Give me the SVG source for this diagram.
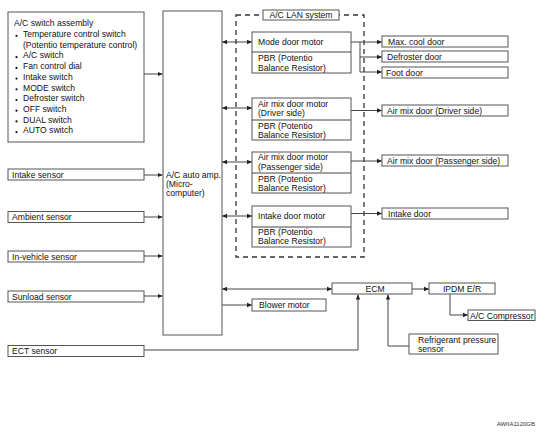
<svg xmlns="http://www.w3.org/2000/svg" width="550" height="436" viewBox="0 0 550 436">
<style>
.b{fill:#fff;stroke:#555;stroke-width:1}
.t{font-family:"Liberation Sans",Arial,sans-serif;font-size:8.6px;fill:#111}
.c{text-anchor:middle}
.l{fill:none;stroke:#444;stroke-width:1}
.a{marker-end:url(#ah)}
.d{marker-start:url(#as);marker-end:url(#ah)}
.dash{fill:none;stroke:#333;stroke-width:1.3;stroke-dasharray:5,4}
</style>
<defs>
<marker id="ah" markerUnits="userSpaceOnUse" markerWidth="6" markerHeight="6" refX="5" refY="3" orient="auto"><path d="M0,0.8 L5,3 L0,5.2 Z" fill="#222"/></marker>
<marker id="as" markerUnits="userSpaceOnUse" markerWidth="6" markerHeight="6" refX="0" refY="3" orient="auto"><path d="M5,0.8 L0,3 L5,5.2 Z" fill="#222"/></marker>
</defs>
<rect width="550" height="436" fill="#fff"/>

<g id="lan-system">
<rect class="dash" x="236" y="15" width="128" height="242"/>
<rect class="b" x="263" y="10" width="76" height="10"/>
<text class="t c" x="301" y="18.3">A/C LAN system</text>
</g>

<g id="connectors">
<line class="l a" x1="144" y1="74" x2="162.5" y2="74"/>
<line class="l a" x1="144" y1="175" x2="162.5" y2="175"/>
<line class="l a" x1="144" y1="217" x2="162.5" y2="217"/>
<line class="l a" x1="144" y1="256" x2="162.5" y2="256"/>
<line class="l a" x1="144" y1="296" x2="162.5" y2="296"/>
<line class="l d" x1="222" y1="42" x2="252" y2="42"/>
<line class="l d" x1="222" y1="108" x2="252" y2="108"/>
<line class="l d" x1="222" y1="162" x2="252" y2="162"/>
<line class="l d" x1="222" y1="216" x2="252" y2="216"/>
<line class="l" x1="351" y1="42" x2="360" y2="42"/>
<line class="l" x1="360" y1="42" x2="360" y2="72"/>
<line class="l a" x1="360" y1="42" x2="382" y2="42"/>
<line class="l a" x1="360" y1="57" x2="382" y2="57"/>
<line class="l a" x1="360" y1="72" x2="382" y2="72"/>
<line class="l a" x1="351" y1="110.5" x2="382" y2="110.5"/>
<line class="l a" x1="351" y1="161" x2="382" y2="161"/>
<line class="l a" x1="351" y1="213.5" x2="382" y2="213.5"/>
<line class="l d" x1="222" y1="289" x2="332" y2="289"/>
<line class="l a" x1="222" y1="305" x2="252" y2="305"/>
<line class="l a" x1="412" y1="289" x2="429" y2="289"/>
<polyline class="l a" points="450,294 450,315 468,315"/>
<polyline class="l a" points="409,346 388,346 388,294.5"/>
<polyline class="l a" points="144,350 358,350 358,294.5"/>
</g>

<g id="ac-switch-assembly">
<rect class="b" x="8" y="12" width="136" height="130"/>
<text class="t" x="14" y="26.3">A/C switch assembly</text>
<g fill="#111">
<circle cx="16.5" cy="35.8" r="1.1"/>
<circle cx="16.5" cy="57.2" r="1.1"/>
<circle cx="16.5" cy="67.9" r="1.1"/>
<circle cx="16.5" cy="78.6" r="1.1"/>
<circle cx="16.5" cy="89.3" r="1.1"/>
<circle cx="16.5" cy="100" r="1.1"/>
<circle cx="16.5" cy="110.7" r="1.1"/>
<circle cx="16.5" cy="121.4" r="1.1"/>
<circle cx="16.5" cy="132.1" r="1.1"/>
</g>
<text class="t" x="23" y="37">Temperature control switch</text>
<text class="t" x="23" y="47.7">(Potentio temperature control)</text>
<text class="t" x="23" y="58.4">A/C switch</text>
<text class="t" x="23" y="69.1">Fan control dial</text>
<text class="t" x="23" y="79.8">Intake switch</text>
<text class="t" x="23" y="90.5">MODE switch</text>
<text class="t" x="23" y="101.2">Defroster switch</text>
<text class="t" x="23" y="111.9">OFF switch</text>
<text class="t" x="23" y="122.6">DUAL switch</text>
<text class="t" x="23" y="133.3">AUTO switch</text>
</g>

<g id="intake-sensor"><rect class="b" x="8" y="169" width="136" height="11"/><text class="t" x="12" y="177.8">Intake sensor</text></g>
<g id="ambient-sensor"><rect class="b" x="8" y="211.5" width="136" height="11"/><text class="t" x="12" y="220.3">Ambient sensor</text></g>
<g id="in-vehicle-sensor"><rect class="b" x="8" y="251" width="136" height="11"/><text class="t" x="12" y="259.8">In-vehicle sensor</text></g>
<g id="sunload-sensor"><rect class="b" x="8" y="291" width="136" height="11"/><text class="t" x="12" y="299.8">Sunload sensor</text></g>
<g id="ect-sensor"><rect class="b" x="8" y="345.5" width="136" height="11"/><text class="t" x="12" y="354.3">ECT sensor</text></g>

<g id="ac-auto-amp">
<rect class="b" x="163" y="11" width="59" height="324"/>
<text class="t" x="166" y="178">A/C auto amp.</text>
<text class="t" x="166" y="187">(Micro-</text>
<text class="t" x="166" y="196">computer)</text>
</g>

<g id="mode-door-motor">
<rect class="b" x="252" y="32" width="99" height="41"/>
<line class="l" x1="252" y1="52" x2="351" y2="52"/>
<text class="t" x="258" y="45">Mode door motor</text>
<text class="t" x="258" y="61">PBR (Potentio</text>
<text class="t" x="258" y="71">Balance Resistor)</text>
</g>
<g id="air-mix-driver-motor">
<rect class="b" x="252" y="98" width="99" height="42"/>
<line class="l" x1="252" y1="120" x2="351" y2="120"/>
<text class="t" x="258" y="107">Air mix door motor</text>
<text class="t" x="258" y="116">(Driver side)</text>
<text class="t" x="258" y="129">PBR (Potentio</text>
<text class="t" x="258" y="138">Balance Resistor)</text>
</g>
<g id="air-mix-passenger-motor">
<rect class="b" x="252" y="152" width="99" height="41"/>
<line class="l" x1="252" y1="173" x2="351" y2="173"/>
<text class="t" x="258" y="160">Air mix door motor</text>
<text class="t" x="258" y="170">(Passenger side)</text>
<text class="t" x="258" y="182">PBR (Potentio</text>
<text class="t" x="258" y="191">Balance Resistor)</text>
</g>
<g id="intake-door-motor">
<rect class="b" x="252" y="206" width="99" height="41"/>
<line class="l" x1="252" y1="227" x2="351" y2="227"/>
<text class="t" x="258" y="219">Intake door motor</text>
<text class="t" x="258" y="235">PBR (Potentio</text>
<text class="t" x="258" y="244">Balance Resistor)</text>
</g>

<g id="max-cool-door"><rect class="b" x="382" y="36" width="126" height="11"/><text class="t" x="388" y="44.8">Max. cool door</text></g>
<g id="defroster-door"><rect class="b" x="382" y="51" width="126" height="11"/><text class="t" x="387" y="59.8">Defroster door</text></g>
<g id="foot-door"><rect class="b" x="382" y="67" width="126" height="11"/><text class="t" x="386" y="75.8">Foot door</text></g>
<g id="air-mix-door-driver"><rect class="b" x="382" y="105" width="126" height="11"/><text class="t" x="387" y="113.8">Air mix door (Driver side)</text></g>
<g id="air-mix-door-passenger"><rect class="b" x="382" y="155" width="126" height="11"/><text class="t" x="387" y="163.8">Air mix door (Passenger side)</text></g>
<g id="intake-door"><rect class="b" x="382" y="208" width="126" height="11"/><text class="t" x="388" y="216.8">Intake door</text></g>

<g id="ecm"><rect class="b" x="332" y="283" width="80" height="11"/><text class="t c" x="375" y="291.8">ECM</text></g>
<g id="blower-motor"><rect class="b" x="252" y="299" width="74" height="12"/><text class="t" x="259" y="308">Blower motor</text></g>
<g id="ipdm"><rect class="b" x="429" y="283" width="66" height="11"/><text class="t c" x="462" y="291.8">IPDM E/R</text></g>
<g id="ac-compressor"><rect class="b" x="468" y="310" width="67" height="10.5"/><text class="t" x="470" y="318.5">A/C Compressor</text></g>
<g id="refrigerant-pressure-sensor"><rect class="b" x="409" y="334" width="89" height="20"/><text class="t" x="418" y="342.8">Refrigerant pressure</text><text class="t" x="418" y="351.8">sensor</text></g>

<text x="535" y="426" font-family="Liberation Sans,Arial,sans-serif" font-size="6" fill="#333" text-anchor="end">AWIIA1120GB</text>
</svg>
